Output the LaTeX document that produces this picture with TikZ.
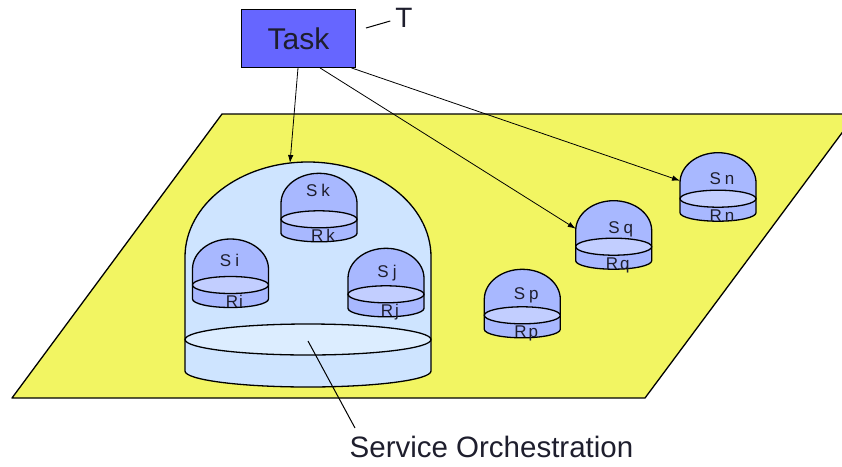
\documentclass[tikz,border=0pt]{standalone}
\usepackage{fontspec}
\setmainfont{Liberation Sans}
\usetikzlibrary{arrows.meta}

\definecolor{planeyellow}{RGB}{242,245,98}
\definecolor{domeblue}{RGB}{206,228,255}
\definecolor{domering}{RGB}{220,237,255}
\definecolor{svcblue}{RGB}{168,184,255}
\definecolor{svcring}{RGB}{194,206,255}
\definecolor{taskblue}{RGB}{102,102,255}
\definecolor{inkdark}{RGB}{30,30,45}

\tikzset{
  outline/.style={draw=black, line width=1.3pt, line join=round},
  plane/.style={outline, fill=planeyellow},
  orchbody/.style={outline, fill=domeblue},
  orchring/.style={outline, fill=domering},
  svcbody/.style={outline, fill=svcblue},
  svcringstyle/.style={outline, fill=svcring},
  svclabel/.style={inner sep=0pt, anchor=base, text=inkdark,
    font=\fontsize{17}{17}\selectfont},
  taskbox/.style={draw=black, line width=1.2pt, fill=taskblue,
    minimum width=114.7pt, minimum height=58pt, inner sep=0pt,
    text=inkdark, font=\fontsize{30}{30}\selectfont},
  link/.style={draw=black, line width=0.8pt,
    -{Latex[length=8pt,width=5.5pt]}},
  pointer/.style={draw=black, line width=1pt},
}

% A service node: dome, ring and base, with its S and R labels.
% #1 name, #2 centre x, #3 top y, #4 upper label, #5 lower label,
% #6 #7 baseline offset of the upper label
\newcommand\servicedome[7]{%
  \begin{scope}[shift={(#2,#3)}]
    \filldraw[svcbody] (-38,60) -- (-38,30)
      arc[start angle=180, end angle=360, x radius=38, y radius=30]
      -- (38,60)
      arc[start angle=0, end angle=180, x radius=38, y radius=8.5] -- cycle;
    \filldraw[svcringstyle] (0,46) ellipse[x radius=38, y radius=8.5];
    \node[svclabel] (#1-s) at (#6,#7) {#4};
    \node[svclabel] (#1-r) at (4,68.5) {#5};
    \coordinate (#1-w) at (-38,28);
  \end{scope}}

\begin{document}
\begin{tikzpicture}[x=1pt, y=-1pt]
  \useasboundingbox (0,0) rectangle (842,466);
  \clip (0,0) rectangle (842,466);

  % the ground plane
  \filldraw[plane] (222,114) -- (856,114) -- (645,398) -- (12,398) -- cycle;

  % orchestration dome
  \begin{scope}[shift={(308,162)}]
    \filldraw[orchbody] (-123,209) -- (-123,95)
      arc[start angle=180, end angle=360, x radius=123, y radius=95]
      -- (123,209)
      arc[start angle=0, end angle=180, x radius=123, y radius=16] -- cycle;
    \filldraw[orchring] (0,177.5) ellipse[x radius=123, y radius=15.5];
    \coordinate (orch-top) at (-18,1);
    \coordinate (orch-mid) at (0,179);
  \end{scope}

  % services inside the dome
  \servicedome{si}{230.5}{239}{S\kern4pt i}{R\kern1pt i}{-1}{27.7}
  \servicedome{sk}{319}{173.3}{S\kern4pt k}{R\kern3pt k}{-1}{22.7}
  \servicedome{sj}{386}{248.3}{S\kern4pt j}{R\kern2pt j}{1}{29}

  % services on the plane
  \servicedome{sp}{522.3}{269.3}{S\kern4pt p}{R\kern2pt p}{4}{30}
  \servicedome{sq}{613.7}{200.7}{S\kern4pt q}{R\kern2pt q}{7}{32.6}
  \servicedome{sn}{718}{152.7}{S\kern4pt n}{R\kern3pt n}{4}{31.6}

  % the task
  \node[taskbox] (task) at (298.5,38.3) {Task};
  \node[inner sep=0pt, text=inkdark, font=\fontsize{28}{28}\selectfont]
    (tlabel) at (404,18) {T};
  \coordinate (tagtail) at (366,28);
  \draw[pointer] (tagtail) -- ([xshift=-5pt,yshift=-3pt]tlabel.west);

  \draw[link] ([xshift=-0.5pt]task.south) -- (orch-top);
  \draw[link] ([xshift=21.5pt]task.south) -- (sq-w);
  \draw[link] ([xshift=-5pt]task.south east) -- (sn-w);

  % caption
  \node[inner sep=0pt, anchor=base, text=inkdark,
    font=\fontsize{29.5}{30}\selectfont] (orchlabel) at (491.5,457)
    {Service Orchestration};
  \coordinate (orchtail) at (355,428);
  \draw[pointer] (orch-mid) -- (orchtail);
\end{tikzpicture}
\end{document}
